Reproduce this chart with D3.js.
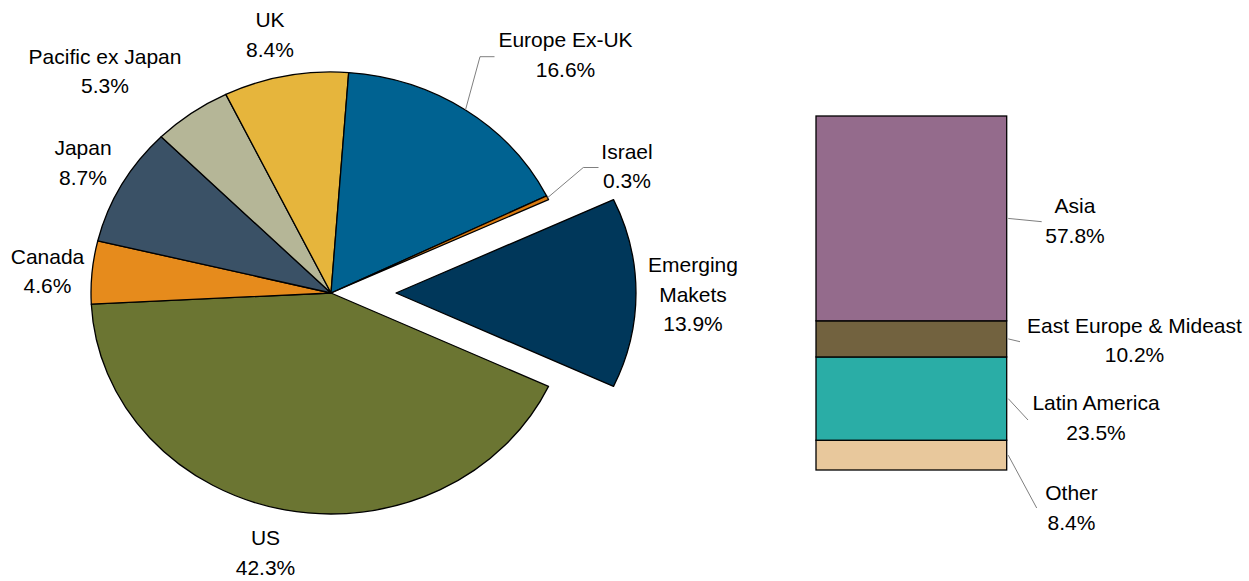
<!DOCTYPE html>
<html>
<head>
<meta charset="utf-8">
<script src="https://cdn.jsdelivr.net/npm/d3@7"></script>
<style>
  html, body { margin: 0; padding: 0; background: #fff; }
  svg { display: block; }
  text { font-family: "Liberation Sans", Arial, sans-serif; font-size: 21px; fill: #000; }
</style>
</head>
<body>
<svg id="chart" width="1249" height="581"></svg>
<script>
// ---- Data ----
const pieCategories = ["US", "Canada", "Japan", "Pacific ex Japan", "UK", "Europe Ex-UK", "Israel", "Emerging Makets"];
const pieValues     = [42.3, 4.6, 8.7, 5.3, 8.4, 16.6, 0.3, 13.9];
const pieColors     = ["#6b7532", "#e68b1c", "#3a5166", "#b5b697", "#e6b53c", "#006291", "#d97a10", "#00375a"];
const explodedCategory = "Emerging Makets";

const barCategories = ["Asia", "East Europe & Mideast", "Latin America", "Other"];
const barValues     = [57.8, 10.2, 23.5, 8.4];
const barColors     = ["#946b8c", "#72623f", "#2aada6", "#e8c89c"];

// ---- Layout (text positions: centre x, first baseline) ----
const pieLabelPos = {
  "US": [265.5, 545],
  "Canada": [47.5, 263.5],
  "Japan": [83, 155],
  "Pacific ex Japan": [105, 63.5],
  "UK": [270, 26.7],
  "Europe Ex-UK": [565.5, 47.3],
  "Israel": [627, 158.5],
  "Emerging Makets": [693, 271.7]
};
const pieLabelLines = {
  "Emerging Makets": ["Emerging", "Makets"]
};
const pieLeaderElbows = {
  "Europe Ex-UK": [[480, 56.7], [494.5, 56.7]],
  "Israel": [[583.3, 167.5], [598.5, 167.5]]
};
const barLabelPos = {
  "Asia": [1075, 212.7],
  "East Europe & Mideast": [1134.5, 332.5],
  "Latin America": [1096, 410],
  "Other": [1071.5, 500]
};
const barLeaderEnds = {
  "Asia": [1041.7, 221.7],
  "East Europe & Mideast": [1020, 341.7],
  "Latin America": [1028, 420],
  "Other": [1036.7, 508]
};
const lineGap = 29.8;

const svg = d3.select("#chart");

// ---- Pie ----
const cx = 331, cy = 293, R = 221, sx = 240 / 221, explode = 65;
const total = d3.sum(pieValues);
const expIdx = pieCategories.indexOf(explodedCategory);
const expFrac = pieValues[expIdx] / total;
const before = d3.sum(pieValues.slice(0, expIdx)) / total;
// rotate so exploded slice is centred at 3 o'clock
const start = Math.PI / 2 - 2 * Math.PI * (before + expFrac / 2);
const pie = d3.pie().sort(null).startAngle(start).endAngle(start + 2 * Math.PI);
const arcs = pie(pieValues);
arcs.forEach((a, i) => { a.name = pieCategories[i]; a.color = pieColors[i]; });
const arc = d3.arc().innerRadius(0).outerRadius(R);

const pg = svg.append("g");
pg.selectAll("path").data(arcs).enter().append("path")
  .attr("transform", d => {
    const dx = d.name === explodedCategory ? explode : 0;
    return `translate(${cx + dx},${cy}) scale(${sx},1)`;
  })
  .attr("d", arc)
  .attr("fill", d => d.color)
  .attr("stroke", "#000")
  .attr("stroke-width", 1.3)
  .attr("stroke-linejoin", "round")
  .attr("vector-effect", "non-scaling-stroke");

// leader lines for pie
arcs.forEach(a => {
  if (!pieLeaderElbows[a.name]) return;
  const m = (a.startAngle + a.endAngle) / 2;
  const p0 = [cx + sx * R * Math.sin(m), cy - R * Math.cos(m)];
  const pts = [p0].concat(pieLeaderElbows[a.name]);
  svg.append("path").attr("d", d3.line()(pts))
    .attr("fill", "none").attr("stroke", "#7f7f7f").attr("stroke-width", 1);
});

// pie labels
const fmt = v => v.toFixed(1) + "%";
arcs.forEach((a, i) => {
  const pos = pieLabelPos[a.name];
  const lines = (pieLabelLines[a.name] || [a.name]).concat([fmt(pieValues[i])]);
  const t = svg.append("text").attr("text-anchor", "middle");
  lines.forEach((l, k) => t.append("tspan").attr("x", pos[0]).attr("y", pos[1] + k * lineGap).text(l));
});

// ---- Stacked bar ----
const barTotal = d3.sum(barValues);
const y = d3.scaleLinear().domain([0, barTotal]).range([470, 116]);
const x = d3.scaleBand().domain(["EM"]).range([816, 1006.7]).padding(0);
// stack from bottom: last category at bottom
const order = barCategories.map((c, i) => i).reverse();
let acc = 0;
const segs = [];
order.forEach(i => {
  segs.push({ name: barCategories[i], v: barValues[i], y0: acc, y1: acc + barValues[i], color: barColors[i] });
  acc += barValues[i];
});
const bg = svg.append("g");
bg.selectAll("rect").data(segs).enter().append("rect")
  .attr("x", x("EM"))
  .attr("width", x.bandwidth())
  .attr("y", d => y(d.y1))
  .attr("height", d => y(d.y0) - y(d.y1))
  .attr("fill", d => d.color)
  .attr("stroke", "#000")
  .attr("stroke-width", 1.3);

segs.forEach(s => {
  const ym = (y(s.y0) + y(s.y1)) / 2;
  const p0 = [x("EM") + x.bandwidth() + 1.5, ym];
  svg.append("path").attr("d", d3.line()([p0, barLeaderEnds[s.name]]))
    .attr("fill", "none").attr("stroke", "#7f7f7f").attr("stroke-width", 1);
  const pos = barLabelPos[s.name];
  const t = svg.append("text").attr("text-anchor", "middle");
  [s.name, fmt(s.v)].forEach((l, k) => t.append("tspan").attr("x", pos[0]).attr("y", pos[1] + k * lineGap).text(l));
});
</script>
</body>
</html>
